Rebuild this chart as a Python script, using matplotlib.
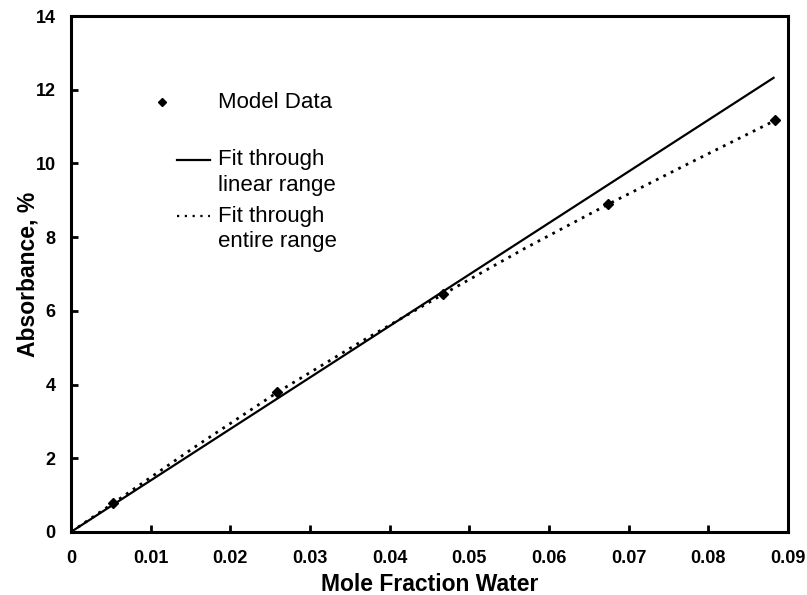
import matplotlib
matplotlib.use("Agg")
import matplotlib.pyplot as plt

plt.rcParams['font.family'] = ['Liberation Sans', 'DejaVu Sans']

# model data
x_model = [0.0053, 0.0259, 0.0467, 0.0674, 0.0884]
y_model = [0.78, 3.79, 6.45, 8.89, 11.17]

# fit through linear range (straight line)
x_lin = [0.0, 0.0883]
y_lin = [0.0, 12.34]

# fit through entire range (curved, follows the points)
x_all = [0.0, 0.0053, 0.0155, 0.0259, 0.0363, 0.0467, 0.0570, 0.0674, 0.0780, 0.0884]
y_all = [0.0, 0.78, 2.30, 3.79, 5.15, 6.45, 7.70, 8.89, 10.05, 11.17]

xticks = [0, 0.01, 0.02, 0.03, 0.04, 0.05, 0.06, 0.07, 0.08, 0.09]
xtick_labels = ['0', '0.01', '0.02', '0.03', '0.04', '0.05', '0.06', '0.07', '0.08', '0.09']
yticks = [0, 2, 4, 6, 8, 10, 12, 14]

fig = plt.figure(figsize=(8.07, 5.95), dpi=100)
ax = fig.add_axes([0.088, 0.106, 0.8885, 0.867])

ax.plot(x_lin, y_lin, color='black', lw=1.6, solid_capstyle='butt')
ax.plot(x_all, y_all, color='black', lw=2.0, ls=(0, (1, 2)))
ax.plot(x_model, y_model, ls='none', marker='D', ms=5, color='black')

ax.set_xlim(0, 0.09)
ax.set_ylim(0, 14)
ax.set_xticks(xticks)
ax.set_xticklabels(xtick_labels)
ax.set_yticks(yticks)

for s in ax.spines.values():
    s.set_linewidth(2.2)

ax.tick_params(axis='x', direction='in', length=5, width=2, pad=13, labelsize=13)
ax.tick_params(axis='y', direction='in', length=5, width=2, pad=11, labelsize=13)
for lab in ax.get_xticklabels() + ax.get_yticklabels():
    lab.set_fontweight('bold')

ax.set_xlabel('Mole Fraction Water', fontsize=16.5, fontweight='bold', labelpad=4)
ax.set_ylabel('Absorbance, %', fontsize=16.5, fontweight='bold', labelpad=-3)

# legend drawn by hand to keep the original layout
tr = ax.transAxes
fs = 16
ax.plot([0.127], [0.833], marker='D', ms=4, color='black', ls='none', transform=tr)
ax.text(0.205, 0.833, 'Model Data', transform=tr, fontsize=fs, va='center')
ax.plot([0.148, 0.194], [0.721, 0.721], color='black', lw=1.6, transform=tr)
ax.text(0.205, 0.721, 'Fit through', transform=tr, fontsize=fs, va='center')
ax.text(0.205, 0.672, 'linear range', transform=tr, fontsize=fs, va='center')
ax.plot([0.148, 0.194], [0.612, 0.612], color='black', lw=1.6, ls=(0, (1, 2.5)), transform=tr)
ax.text(0.205, 0.612, 'Fit through', transform=tr, fontsize=fs, va='center')
ax.text(0.205, 0.563, 'entire range', transform=tr, fontsize=fs, va='center')

plt.savefig('out.png', dpi=100)
